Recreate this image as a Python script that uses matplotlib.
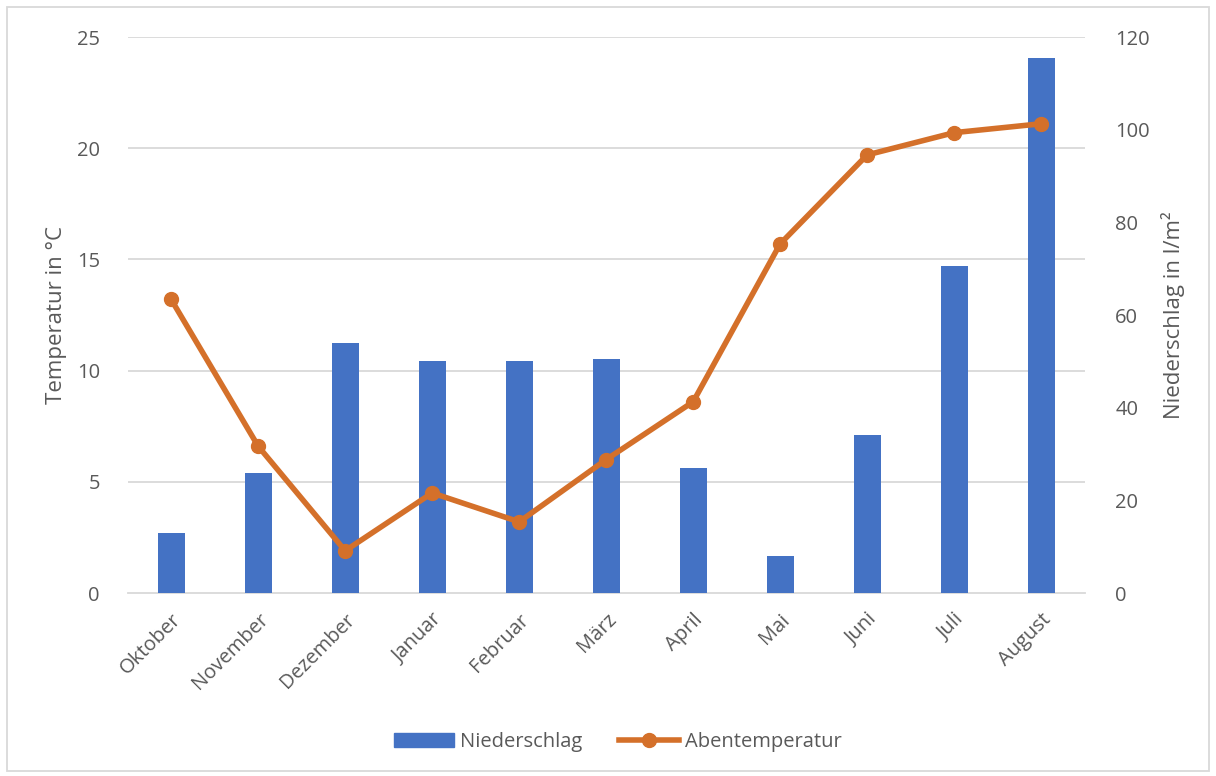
import matplotlib.pyplot as plt
from matplotlib.lines import Line2D
from matplotlib.patches import Patch, Rectangle

months = ['Oktober', 'November', 'Dezember', 'Januar', 'Februar', 'März',
          'April', 'Mai', 'Juni', 'Juli', 'August']
niederschlag = [13, 26, 54, 50, 50, 50.5, 27, 8, 34, 70.5, 115.5]
temperatur = [13.2, 6.6, 1.9, 4.5, 3.2, 6.0, 8.6, 15.7, 19.7, 20.7, 21.1]

T_MAX, N_MAX = 25, 120

BLUE = '#4472C4'
ORANGE = '#D4702A'
GREY = '#595959'
GRID = '#D9D9D9'

plt.rcParams['font.family'] = ['Open Sans', 'DejaVu Sans']

fig = plt.figure(figsize=(12.16, 7.76), dpi=100)
ax = fig.add_axes([0.105, 0.2358, 0.787, 0.7165])
ax2 = ax.twinx()

x = list(range(len(months)))

# precipitation bars on the right axis, temperature line on the left
ax2.bar(x, niederschlag, width=0.31, color=BLUE, zorder=2)
ax2.set_ylim(0, N_MAX)
ax2.set_yticks(range(0, N_MAX + 1, 20))

# gridlines follow the temperature ticks but sit behind the bars
t_ticks = list(range(0, T_MAX + 1, 5))
for t in t_ticks[1:]:
    ax2.axhline(t * N_MAX / T_MAX, color=GRID, lw=1.3, zorder=0)

ax.set_zorder(ax2.get_zorder() + 1)
ax.patch.set_visible(False)
ax.plot(x, temperatur, color=ORANGE, lw=4, marker='o', markersize=10,
        solid_capstyle='round', zorder=3)
ax.set_ylim(0, T_MAX)
ax.set_yticks(t_ticks)
ax.set_xlim(-0.5, len(months) - 0.5)
ax.set_xticks(x)
ax.set_xticklabels(months, rotation=45, ha='right', rotation_mode='anchor')

for a in (ax, ax2):
    for s in a.spines.values():
        s.set_visible(False)
    a.tick_params(length=0, colors=GREY, labelsize=14.5)
ax2.spines['bottom'].set_visible(True)
ax2.spines['bottom'].set_color(GRID)
ax2.spines['bottom'].set_linewidth(1.3)
ax2.spines['bottom'].set_zorder(0)
ax.tick_params(axis='y', pad=20)
ax.tick_params(axis='x', pad=12)
ax2.tick_params(axis='y', pad=22)

ax.set_ylabel('Temperatur in °C', color=GREY, fontsize=16, labelpad=7)
ax2.set_ylabel('Niederschlag in l/m²', color=GREY, fontsize=16, labelpad=8)

handles = [Patch(color=BLUE, label='Niederschlag'),
           Line2D([0], [0], color=ORANGE, lw=4, marker='o', markersize=10,
                  label='Abentemperatur')]
fig.legend(handles=handles, loc='center', bbox_to_anchor=(0.508, 0.044),
           ncol=2, frameon=False, fontsize=14.5, labelcolor=GREY,
           handlelength=3.0, columnspacing=1.8, handletextpad=0.3)

fig.patches.append(Rectangle((0.006, 0.006), 0.988, 0.985, transform=fig.transFigure,
                             fill=False, edgecolor=GRID, lw=1.3))

fig.savefig('out.png', dpi=100)
